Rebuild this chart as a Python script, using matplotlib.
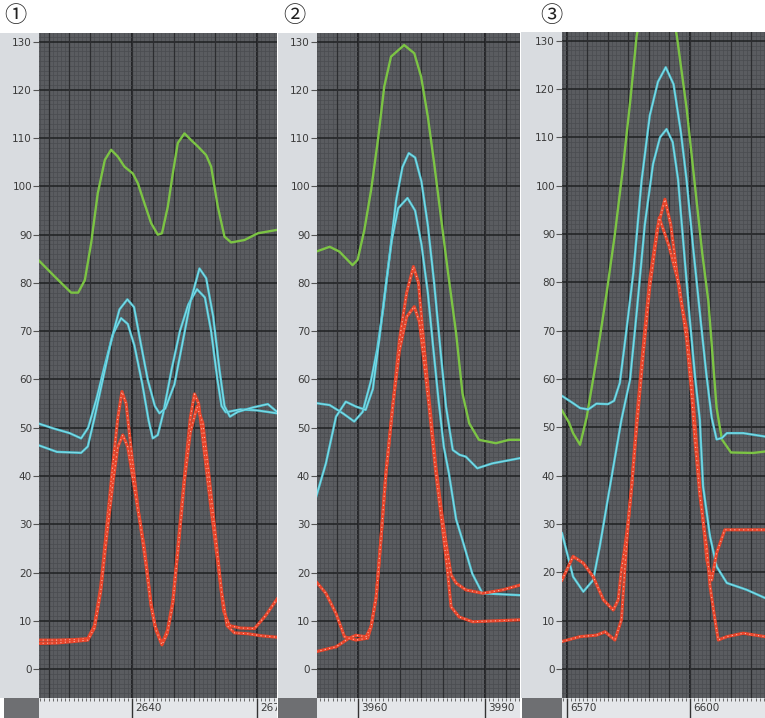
import matplotlib
matplotlib.use('Agg')
import matplotlib.pyplot as plt
import matplotlib.transforms as mtransforms
from matplotlib.patches import Rectangle
from matplotlib.ticker import MultipleLocator

# ---- data ----
panel_labels = ['①', '②', '③']
y_ticks = list(range(0, 131, 10))

# panel 1
p1_green_x = [2617.5, 2621.5, 2625.4, 2627.1, 2628.7, 2630.2, 2631.8, 2633.5, 2635.0, 2636.6,
              2638.2, 2640.2, 2641.4, 2643.0, 2644.6, 2646.2, 2647.2, 2648.6, 2649.8, 2651.0,
              2652.6, 2654.2, 2655.8, 2657.8, 2659.0, 2660.6, 2662.2, 2663.8, 2667.0, 2670.2, 2674.8]
p1_green_y = [84.8, 81.3, 78.0, 78.0, 80.6, 88.2, 98.6, 105.5, 107.6, 106.2,
              104.1, 102.7, 100.7, 96.5, 92.4, 90.0, 90.3, 95.8, 102.7, 109.0,
              111.0, 109.6, 108.3, 106.5, 104.1, 95.8, 89.6, 88.4, 88.9, 90.3, 91.0]
p1_cyan1_x = [2617.5, 2621, 2625, 2627.8, 2629.5, 2631.5, 2633.5, 2635.5, 2637.4, 2639, 2640.6,
              2642.5, 2644, 2645, 2646.2, 2647.5, 2649.5, 2651.5, 2653.5, 2655.6, 2657.5, 2659,
              2660.5, 2661.5, 2662.5, 2666, 2670, 2674.8]
p1_cyan1_y = [50.9, 49.9, 48.9, 47.8, 50, 56, 63, 69.5, 72.7, 71.5, 67,
              59, 51.5, 47.8, 48.5, 53, 62, 70, 75.5, 78.7, 77, 70,
              60, 54.5, 53.2, 53.8, 53.6, 53.0]
p1_cyan2_x = [2617.5, 2622, 2627.8, 2629.4, 2631, 2633, 2635, 2637, 2638.9, 2640.5, 2642, 2643.8,
              2645.5, 2646.6, 2648, 2650.2, 2652, 2654, 2656.2, 2657.8, 2659.5, 2661, 2662.2,
              2663.5, 2665.4, 2669, 2672.6, 2674.8]
p1_cyan2_y = [46.4, 45.0, 44.8, 46.1, 52, 60, 68, 74.5, 76.6, 75, 68, 59.9,
              54.5, 53.0, 54, 59, 67, 76, 83.0, 81, 73, 62, 54.5,
              52.3, 53.3, 54.2, 54.9, 53.3]
p1_red1_x = [2617.5, 2622, 2626, 2629.4, 2631, 2632.5, 2634, 2635.5, 2636.6, 2637.6, 2638.6, 2640,
             2641.5, 2643, 2644.5, 2645.5, 2647.2, 2648.5, 2649.8, 2651.2, 2652.6, 2654, 2655,
             2656, 2657.5, 2659, 2660.6, 2662, 2663.4, 2666, 2669.4, 2672, 2674.8]
p1_red1_y = [6.0, 6.0, 6.1, 6.3, 9, 17, 30, 43, 52, 57.5, 55, 44,
             33, 25, 14, 9, 5.2, 8, 14, 27, 40, 52, 57,
             55, 44, 33, 22, 12, 9, 8.5, 8.4, 11, 14.5]
p1_red2_x = [2617.5, 2622, 2626, 2629.4, 2631, 2632.5, 2634, 2635.5, 2636.6, 2637.8, 2639, 2640.5,
             2642, 2643.3, 2644.6, 2645.8, 2647.2, 2648.5, 2649.8, 2651.2, 2652.6, 2654, 2655.6,
             2657, 2658.5, 2660, 2661.5, 2662.8, 2664.6, 2668, 2671, 2674.8]
p1_red2_y = [5.3, 5.4, 5.7, 6.0, 8.5, 16, 28, 39, 46, 48.5, 46, 38,
             30, 22, 13, 8, 5.0, 7.5, 13.5, 26, 39, 49, 54.4,
             51, 40, 28, 16, 9, 7.5, 7.3, 6.9, 6.6]

# panel 2
p2_green_x = [3950.1, 3953.3, 3955.6, 3958.7, 3959.9, 3961.5, 3963.1, 3964.7, 3966.2, 3967.8,
              3970.9, 3973.3, 3974.9, 3976.5, 3978.0, 3979.6, 3981.2, 3983.2, 3984.7, 3986.3,
              3988.6, 3992.6, 3995.7, 3998.3]
p2_green_y = [86.5, 87.5, 86.5, 83.7, 84.8, 91.0, 99.3, 109.6, 120.7, 126.9,
              129.3, 127.6, 122.8, 114.5, 104.8, 93.7, 82.7, 69.5, 57.1, 50.9,
              47.5, 46.8, 47.5, 47.5]
p2_cyan1_x = [3950.1, 3953.3, 3956.4, 3959.1, 3961.1, 3963.1, 3964.5, 3966, 3967.5, 3969, 3970.5,
              3972, 3973.5, 3975, 3976.5, 3978, 3979.5, 3980.8, 3982.4, 3984, 3985.5, 3988.2,
              3991.7, 3998.3]
p2_cyan1_y = [55.1, 54.7, 53.0, 51.3, 53.3, 59.9, 66.1, 75, 86, 97, 104,
              106.9, 106, 101, 92, 80, 66, 54.4, 45.4, 44.4, 44.0, 41.6,
              42.6, 43.7]
p2_cyan2_x = [3950.1, 3952.4, 3954.8, 3957.1, 3959.5, 3961.8, 3963.5, 3965, 3966.5, 3968, 3969.5,
              3971.7, 3973.5, 3975, 3976.5, 3977.6, 3979, 3980.3, 3981.5, 3983.2, 3984.7, 3987,
              3989.4, 3998.3]
p2_cyan2_y = [35.7, 42.6, 52.3, 55.4, 54.4, 53.7, 58, 68.2, 79, 89, 95.5,
              97.6, 95, 88, 78, 68.2, 56, 46, 40.5, 31, 26.7, 19.8,
              15.7, 15.3]
p2_red1_x = [3950.1, 3952.4, 3954.8, 3956.8, 3959.5, 3962.3, 3963.1, 3964.3, 3965.4, 3966.6,
             3968.2, 3969.8, 3971.5, 3973.1, 3974.3, 3975.3, 3976.8, 3978.4, 3980, 3981.2, 3982,
             3983.2, 3985.5, 3989.5, 3994.2, 3998.3]
p2_red1_y = [18.1, 15.7, 11.5, 6.7, 6.0, 6.4, 8.8, 15, 26.7, 40.6,
             54.4, 68.2, 78, 83.4, 80, 70, 56, 42, 31, 24, 19.5,
             17.8, 16.4, 15.7, 16.4, 17.4]
p2_red2_x = [3950.1, 3954.8, 3957.9, 3959.5, 3961.9, 3963.1, 3964.3, 3965.4, 3966.6, 3968.2,
             3969.8, 3971.5, 3973.3, 3974.5, 3975.3, 3976.8, 3978.4, 3980, 3981.2, 3982, 3983.9,
             3987.1, 3998.3]
p2_red2_y = [3.6, 4.6, 6.4, 7.0, 6.7, 8.8, 15, 26.7, 40.6, 54.4,
             66, 73, 75.1, 72, 66, 54.4, 40.6, 29, 20, 12.9, 10.8,
             9.8, 10.2]

# panel 3
p3_green_x = [6568.8, 6570.5, 6571.5, 6573.2, 6574.8, 6577.2, 6579.7, 6581.7, 6583.7, 6585.5,
              6587.0, 6589.5, 6591.9, 6594.3, 6596.8, 6599.2, 6601.6, 6603.0, 6604.5, 6605.5,
              6606.5, 6607.8, 6610.0, 6615.4, 6618.3]
p3_green_y = [53.5, 51, 48.8, 46.4, 52, 64, 77.9, 90, 104, 118,
              131, 142, 145, 142, 131, 115.9, 97, 86, 76, 65,
              54, 47.5, 44.8, 44.7, 45.0]
p3_cyan1_x = [6568.8, 6571.5, 6573.2, 6575.2, 6577.2, 6580, 6581.5, 6582.9, 6584.5, 6586.2,
              6588.2, 6590.2, 6592.2, 6594.1, 6596, 6597.8, 6599.2, 6600.8, 6602.5, 6604,
              6605.3, 6606.5, 6607.8, 6609, 6613, 6618.3]
p3_cyan1_y = [56.5, 55, 54.0, 53.7, 54.9, 54.8, 55.5, 59.2, 70, 82,
              101, 114.5, 121.5, 124.5, 121, 111, 101, 87, 73, 61,
              52, 47.5, 47.8, 48.8, 48.8, 48.1]
p3_cyan2_x = [6568.8, 6571.5, 6574.0, 6576.4, 6578.0, 6580.5, 6583.3, 6585.4, 6587.0, 6589.0,
              6591.0, 6592.7, 6594.3, 6595.8, 6597.1, 6598.6, 6600.0, 6601.3, 6602.4, 6603.2,
              6604.9, 6606.5, 6609.0, 6613.8, 6618.3]
p3_cyan2_y = [28.1, 19.1, 16.0, 18.4, 25.3, 37.8, 51.6, 59.9, 73.7, 92,
              104.5, 110, 111.7, 109, 101.3, 86, 72, 60, 51.6, 37.8,
              27.4, 21.2, 17.8, 16.4, 14.7]
p3_red1_x = [6568.8, 6571.5, 6574.0, 6576.4, 6578.9, 6581.3, 6582.5, 6583.3, 6584.1, 6585.0,
             6585.8, 6587.0, 6588.6, 6590.2, 6592.0, 6593.9, 6595.3, 6596.5, 6597.6, 6599.2,
             6600.4, 6601.2, 6602.4, 6604.1, 6605.3, 6606.5, 6608.5, 6618.3]
p3_red1_y = [18.4, 23.3, 21.9, 19.1, 14.3, 12.2, 14.3, 20.5, 25, 31,
             38, 51.6, 66.8, 80.6, 91, 97.2, 92, 84, 77, 70.3,
             59.9, 51, 37.8, 22.6, 18.4, 24.0, 28.8, 28.8]
p3_red2_x = [6568.8, 6573.2, 6577.2, 6579.3, 6581.7, 6583.3, 6584.1, 6585.0, 6585.8, 6587.0,
             6588.6, 6590.2, 6592.5, 6594.9, 6597.4, 6599.2, 6600.4, 6601.2, 6602.4, 6604.1,
             6604.9, 6606.1, 6606.9, 6609.0, 6613.0, 6618.3]
p3_red2_y = [5.7, 6.7, 7.0, 7.7, 6.0, 10.2, 20.5, 30.9, 37.8, 50,
             65, 79, 93.4, 87.5, 79.2, 68, 57, 47.5, 36, 25,
             17.1, 10.2, 6.0, 6.7, 7.4, 6.7]

panels = [
    dict(label=panel_labels[0], xlim=(2617.7, 2674.8), xmajor=[2640, 2670],
         green=[(p1_green_x, p1_green_y)],
         cyan=[(p1_cyan1_x, p1_cyan1_y), (p1_cyan2_x, p1_cyan2_y)],
         red=[(p1_red1_x, p1_red1_y), (p1_red2_x, p1_red2_y)],
         strip=(0, 39), plot=(39, 277), top=33, block=(4, 39), lab_x=4),
    dict(label=panel_labels[1], xlim=(3950.3, 3998.3), xmajor=[3960, 3990],
         green=[(p2_green_x, p2_green_y)],
         cyan=[(p2_cyan1_x, p2_cyan1_y), (p2_cyan2_x, p2_cyan2_y)],
         red=[(p2_red1_x, p2_red1_y), (p2_red2_x, p2_red2_y)],
         strip=(278, 317), plot=(317, 520), top=33, block=(278, 317), lab_x=283),
    dict(label=panel_labels[2], xlim=(6568.8, 6618.3), xmajor=[6570, 6600],
         green=[(p3_green_x, p3_green_y)],
         cyan=[(p3_cyan1_x, p3_cyan1_y), (p3_cyan2_x, p3_cyan2_y)],
         red=[(p3_red1_x, p3_red1_y), (p3_red2_x, p3_red2_y)],
         strip=(521, 562), plot=(562, 765), top=32, block=(522, 562), lab_x=540),
]

W, H = 765, 718
PLOT_BOTTOM = 698
STRIP_COL = '#d9dce0'
fig = plt.figure(figsize=(W / 100, H / 100), dpi=100)
fig.patch.set_facecolor('white')


def fbox(x0, y0, x1, y1):
    # pixel box (top-left origin) -> figure fraction rectangle
    return (x0 / W, 1 - y1 / H, (x1 - x0) / W, (y1 - y0) / H)


for p in panels:
    # grey label strip on the left and the strip under the plot
    l, b, w, h = fbox(p['strip'][0], p['top'], p['strip'][1], PLOT_BOTTOM)
    fig.add_artist(Rectangle((l, b), w, h, transform=fig.transFigure,
                             facecolor=STRIP_COL, edgecolor='none', zorder=-5))
    l, b, w, h = fbox(p['block'][0], PLOT_BOTTOM, p['block'][1], H)
    fig.add_artist(Rectangle((l, b), w, h, transform=fig.transFigure,
                             facecolor='#6e6f72', edgecolor='none', zorder=-5))
    l, b, w, h = fbox(p['plot'][0], PLOT_BOTTOM, p['plot'][1], H)
    xstrip = Rectangle((l, b), w, h, transform=fig.transFigure,
                       facecolor='#e4e6e9', edgecolor='none', zorder=-5)
    fig.add_artist(xstrip)

    ax = fig.add_axes(fbox(p['plot'][0], p['top'], p['plot'][1], PLOT_BOTTOM))
    ax.set_facecolor('#5a5c60')
    ax.set_xlim(*p['xlim'])
    ax.set_ylim(-6.0, 131.8)
    for s in ax.spines.values():
        s.set_visible(False)

    # grid: fine 1-unit mesh, medium every 5 x-units, dark majors
    ax.xaxis.set_minor_locator(MultipleLocator(1))
    ax.yaxis.set_minor_locator(MultipleLocator(1))
    ax.grid(which='minor', color='#4a4c50', lw=0.5)
    x0 = int(p['xlim'][0]) // 5 * 5
    for xv in range(x0, int(p['xlim'][1]) + 1, 5):
        ax.axvline(xv, color='#2c2d30', lw=0.9, zorder=0.9)
    ax.set_yticks(y_ticks)
    ax.set_xticks(p['xmajor'])
    ax.grid(which='major', axis='y', color='#1f2022', lw=1.1)
    ax.grid(which='major', axis='x', color='#1a1b1d', lw=1.2)
    ax.set_axisbelow(True)

    ax.tick_params(axis='y', which='major', labelsize=7.5, labelcolor='#3a3a3a',
                   color='#555555', length=4, width=0.8, pad=1)
    ax.tick_params(axis='y', which='minor', length=0)
    ax.tick_params(axis='x', which='minor', length=2.5, width=0.6, color='#555555')
    ax.tick_params(axis='x', which='major', length=20, width=1.0, color='#333333',
                   labelbottom=False)

    # x labels sit right of their tick inside the strip
    off = mtransforms.offset_copy(ax.get_xaxis_transform(), fig=fig, x=3, y=-5, units='dots')
    for t in p['xmajor']:
        txt = ax.text(t, 0, str(t), transform=off, ha='left', va='top',
                      fontsize=7.5, color='#3a3a3a', clip_on=True)
        txt.set_clip_path(xstrip)

    for xs, ys in p['green']:
        ax.plot(xs, ys, color='#7cc444', lw=1.7, solid_joinstyle='round')
    for xs, ys in p['cyan']:
        ax.plot(xs, ys, color='#4ec6d6', lw=1.7, solid_joinstyle='round')
        ax.plot(xs, ys, color='#c8f2f6', lw=0.5, alpha=0.6)
    for xs, ys in p['red']:
        ax.plot(xs, ys, color='#e8452b', lw=2.2, solid_joinstyle='round')
        ax.plot(xs, ys, color='#ffd6c8', lw=0.8, ls=(0, (1, 3)), alpha=0.8)

    fig.text(p['lab_x'] / W, 1 - 16 / H, p['label'], fontsize=16, va='center', ha='left',
             color='#222222', family=['Noto Sans CJK JP', 'DejaVu Sans'])

fig.savefig('out.png', dpi=100)
